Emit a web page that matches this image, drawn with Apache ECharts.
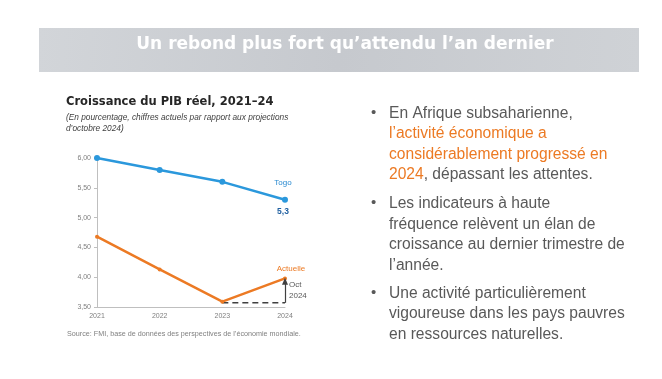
<!DOCTYPE html>
<html><head><meta charset="utf-8">
<script src="https://cdn.jsdelivr.net/npm/echarts@6/dist/echarts.min.js"></script>
<style>html,body{margin:0;padding:0;background:#fff}#c{width:662px;height:379px}</style>
</head><body><div id="c"></div>
<script>
const years = ['2021','2022','2023','2024'];
const togo = [6.0, 5.8, 5.6, 5.3];
const actuelle = [4.68, 4.13, 3.59, 3.98];
const octProjection = [null, null, 3.57, 3.57];
const yTicks = [3.5, 4.0, 4.5, 5.0, 5.5, 6.0];

const F = 'Liberation Sans, Arial, sans-serif';
const FD = 'DejaVu Sans, Liberation Sans, sans-serif';
const chart = echarts.init(document.getElementById('c'), null, {renderer:'canvas'});
const fmt = v => v.toFixed(2).replace('.', ',');

chart.setOption({
  animation:false,
  grid:{left:97, right:377, top:158, bottom:72, containLabel:false},
  xAxis:{type:'category', data:years, boundaryGap:false,
    axisLine:{lineStyle:{color:'#bfbfbf', width:1}},
    axisTick:{show:false},
    axisLabel:{color:'#7f7f7f', fontSize:7, fontFamily:F, margin:6}},
  yAxis:{type:'value', min:3.5, max:6, interval:0.5,
    splitLine:{show:false},
    axisLine:{show:true, lineStyle:{color:'#bfbfbf', width:1}},
    axisTick:{show:true, length:3, lineStyle:{color:'#bfbfbf'}},
    axisLabel:{color:'#7f7f7f', fontSize:7, fontFamily:F, margin:6, formatter:fmt}},
  series:[
    {type:'line', data:togo, color:'#2b98dc', lineStyle:{width:2.5},
     symbol:'circle', symbolSize:6, itemStyle:{color:'#2b98dc'},
     markPoint:{symbol:'circle', symbolSize:0, data:[
       {coord:['2024',5.3], label:{show:true, formatter:'Togo', color:'#2a8ad0', fontSize:8, fontFamily:F, offset:[-2,-17]}},
       {coord:['2024',5.3], label:{show:true, formatter:'5,3', color:'#1f5fa0', fontSize:8.5, fontWeight:'bold', fontFamily:F, offset:[-2,12]}}
     ]}},
    {type:'line', data:actuelle, color:'#ec7a24', lineStyle:{width:2.5},
     symbol:'circle', symbolSize:4, itemStyle:{color:'#ec7a24'},
     markPoint:{symbol:'circle', symbolSize:0, data:[
       {coord:['2024',3.98], label:{show:true, formatter:'Actuelle', color:'#ec7a24', fontSize:8, fontFamily:F, offset:[6,-10]}},
       {coord:['2024',3.98], label:{show:true, formatter:'Oct\n2024', color:'#595959', fontSize:8, lineHeight:10.5, fontFamily:F, align:'left', offset:[4,12]}}
     ]},
     markLine:{silent:true, symbol:['none','triangle'], symbolSize:[6,7], label:{show:false},
       lineStyle:{color:'#404040', width:1.2, type:'solid'},
       data:[[{coord:['2024',3.57]},{coord:['2024',3.93]}]]}},
    {type:'line', data:octProjection, color:'#404040', symbol:'none',
     lineStyle:{width:1.5, type:[6,4], color:'#404040'}}
  ],
  graphic:[
    {type:'rect', shape:{x:39,y:28,width:600,height:44}, style:{fill:new echarts.graphic.LinearGradient(0,0,1,1,[{offset:0,color:'#d2d5d9'},{offset:0.5,color:'#c6c9ce'},{offset:1,color:'#cfd2d6'}])}},
    {type:'text', x:345, y:45, style:{text:'Un rebond plus fort qu\u2019attendu l\u2019an dernier', fill:'#ffffff', font:'bold 17px '+FD, textAlign:'center', textVerticalAlign:'middle'}},
    {type:'text', x:66, y:102, style:{text:'Croissance du PIB r\u00e9el, 2021\u201324', fill:'#262626', font:'bold 11.5px '+FD, textVerticalAlign:'middle'}},
    {type:'text', x:66, y:112, style:{text:'(En pourcentage, chiffres actuels par rapport aux projections\nd\u2019octobre 2024)', fill:'#404040', font:'italic 8.3px '+F, lineHeight:11}},
    {type:'text', x:67, y:334, style:{text:'Source: FMI, base de donn\u00e9es des perspectives de l\u2019\u00e9conomie mondiale.', fill:'#7f7f7f', font:'7.2px '+F, textVerticalAlign:'middle'}},
    {type:'text', x:371, y:113, style:{text:'\u2022', fill:'#595959', font:'15px '+F, textVerticalAlign:'middle'}},
    {type:'text', x:371, y:203, style:{text:'\u2022', fill:'#595959', font:'15px '+F, textVerticalAlign:'middle'}},
    {type:'text', x:371, y:293, style:{text:'\u2022', fill:'#595959', font:'15px '+F, textVerticalAlign:'middle'}},
    {type:'text', x:389, y:103.5, style:{
      text:'{g|En Afrique subsaharienne,}\n{o|l\u2019activit\u00e9 \u00e9conomique a}\n{o|consid\u00e9rablement progress\u00e9 en}\n{o|2024}{g|, d\u00e9passant les attentes.}',
      rich:{g:{fill:'#595959', font:'15.6px '+F, lineHeight:20.3}, o:{fill:'#ec7a24', font:'15.6px '+F, lineHeight:20.3}}}},
    {type:'text', x:389, y:193.5, style:{
      text:'Les indicateurs \u00e0 haute\nfr\u00e9quence rel\u00e8vent un \u00e9lan de\ncroissance au dernier trimestre de\nl\u2019ann\u00e9e.',
      fill:'#595959', font:'15.6px '+F, lineHeight:20.5}},
    {type:'text', x:389, y:283, style:{
      text:'Une activit\u00e9 particuli\u00e8rement\nvigoureuse dans les pays pauvres\nen ressources naturelles.',
      fill:'#595959', font:'15.6px '+F, lineHeight:20.7}}
  ]
});
</script></body></html>
